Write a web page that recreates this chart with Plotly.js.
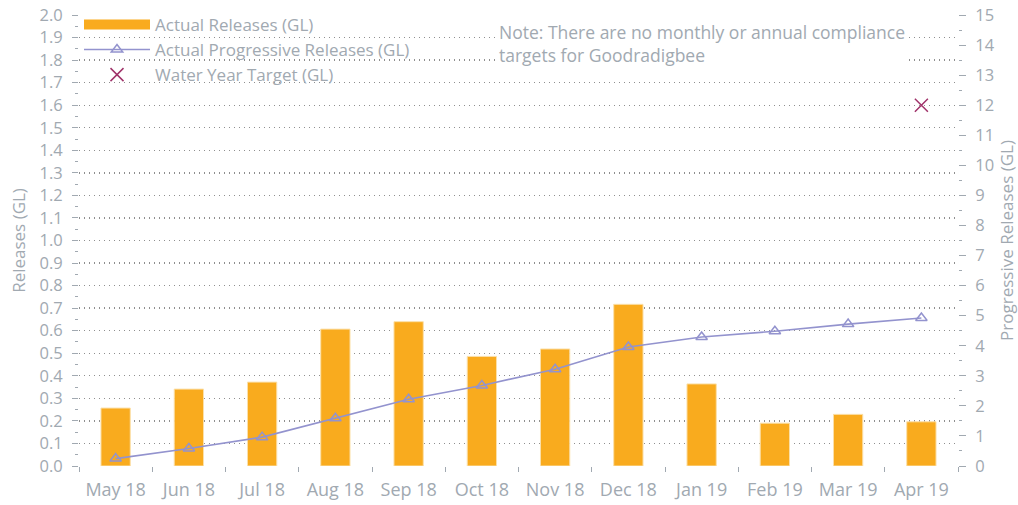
<!DOCTYPE html>
<html>
<head>
<meta charset="utf-8">
<script src="https://cdn.plot.ly/plotly-3.0.1.min.js"></script>
<style>html,body{margin:0;padding:0;background:#fff;}#chart{width:1018px;height:505px;}</style>
</head>
<body>
<div id="chart"></div>
<script>
const months = ["May 18","Jun 18","Jul 18","Aug 18","Sep 18","Oct 18","Nov 18","Dec 18","Jan 19","Feb 19","Mar 19","Apr 19"];
const actualReleases = [0.257,0.341,0.372,0.607,0.640,0.486,0.519,0.717,0.364,0.190,0.229,0.196];
const progressiveReleases = [0.246,0.58,0.96,1.59,2.22,2.68,3.22,3.96,4.29,4.48,4.72,4.92];
const targetMonth = ["Apr 19"];
const waterYearTarget = [12];
const noteText = "Note: There are no monthly or annual compliance<br>targets for Goodradigbee";

const grey = "#A1A9B1";
const fontFam = "'Open Sans', Lato, sans-serif";
const barColor = "#F9AB1E";
const lineColor = "#9393CE";

const traces = [
  {
    type: "bar", name: "Actual Releases (GL)", x: months, y: actualReleases,
    width: 0.4, marker: {color: barColor, line: {color: "#FBE0AA", width: 1}},
    yaxis: "y", showlegend: false
  },
  {
    // legend entry for the bars (wide swatch like the original)
    type: "scatter", mode: "lines", name: "Actual Releases (GL)",
    x: [null], y: [null], yaxis: "y",
    line: {color: barColor, width: 14}, showlegend: true
  },
  {
    type: "scatter", mode: "lines+markers", name: "Actual Progressive Releases (GL)",
    x: months, y: progressiveReleases, yaxis: "y2",
    line: {color: lineColor, width: 1.6},
    marker: {symbol: "triangle-up-open", size: 10, color: lineColor, line: {width: 1.5}}
  },
  {
    type: "scatter", mode: "markers", name: "Water Year Target (GL)",
    x: targetMonth, y: waterYearTarget, yaxis: "y2",
    marker: {symbol: "x-thin-open", size: 13, color: "#A0336A", line: {width: 1.5, color: "#A0336A"}}
  }
];

const layout = {
  width: 1018, height: 505,
  margin: {l: 79, r: 60, t: 15, b: 39, autoexpand: false},
  paper_bgcolor: "#fff", plot_bgcolor: "#fff",
  font: {family: fontFam, color: grey, size: 15},
  showlegend: true,
  legend: {x: 0.0, y: 1.018, xanchor: "left", yanchor: "top", bgcolor: "rgba(0,0,0,0)",
           font: {size: 17, color: grey}, itemwidth: 66, tracegroupgap: 0},
  xaxis: {
    type: "category", range: [-0.5, 11.5], tickson: "boundaries", automargin: false,
    ticks: "outside", ticklen: 5, tickcolor: grey, showgrid: false, showline: false, zeroline: false,
    tickfont: {size: 18, color: grey}, ticklabelstandoff: 11
  },
  yaxis: {
    range: [0, 2], dtick: 0.1, tickformat: ".1f", automargin: false,
    ticks: "outside", ticklen: 6, tickcolor: grey,
    showgrid: true, gridcolor: "#8F8F8F", griddash: "1px,4px", gridwidth: 1.3,
    zeroline: false, showline: false,
    minor: {dtick: 0.05, ticks: "outside", ticklen: 3, tickcolor: grey, showgrid: false},
    tickfont: {size: 16.5, color: grey}, ticklabelstandoff: 6,
    title: {text: "Releases (GL)", font: {size: 17, color: grey}, standoff: 9}
  },
  yaxis2: {
    range: [0, 15], dtick: 1, overlaying: "y", side: "right", automargin: false,
    ticks: "outside", ticklen: 7, tickcolor: grey,
    showgrid: false, zeroline: false, showline: false,
    minor: {dtick: 0.5, ticks: "outside", ticklen: 3, tickcolor: grey, showgrid: false},
    tickfont: {size: 16.5, color: grey}, ticklabelstandoff: 6,
    title: {text: "Progressive Releases (GL)", font: {size: 17, color: grey}, standoff: 8}
  },
  annotations: [{
    xref: "paper", yref: "paper", x: 0.475, y: 1.0, yshift: -3,
    xanchor: "left", yanchor: "top", text: noteText, showarrow: false, align: "left",
    font: {size: 17.5, color: grey}, bgcolor: "#fff", borderpad: 1
  }]
};

Plotly.newPlot("chart", traces, layout, {displayModeBar: false, staticPlot: true});
</script>
</body>
</html>
